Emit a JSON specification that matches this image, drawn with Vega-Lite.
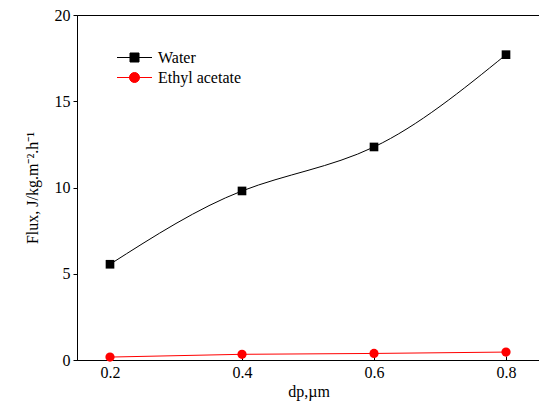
{
  "$schema": "https://vega.github.io/schema/vega-lite/v6.json",
  "width": 463,
  "height": 345,
  "autosize": {"type": "none"},
  "padding": {"left": 77, "top": 15, "right": 0, "bottom": 43},
  "background": "white",
  "config": {
    "font": "Liberation Serif",
    "view": {"stroke": "black", "strokeWidth": 1},
    "axis": {
      "labelFont": "Liberation Serif",
      "titleFont": "Liberation Serif",
      "labelColor": "black",
      "titleColor": "black",
      "domainColor": "black",
      "tickColor": "black",
      "labelFontSize": 16,
      "titleFontSize": 16,
      "titleFontWeight": "normal",
      "grid": false
    },
    "legend": {"labelFont": "Liberation Serif"}
  },
  "datasets": {
    "flux": [
      {"dp": 0.2, "flux": 5.55, "series": "Water"},
      {"dp": 0.4, "flux": 9.8, "series": "Water"},
      {"dp": 0.6, "flux": 12.35, "series": "Water"},
      {"dp": 0.8, "flux": 17.7, "series": "Water"},
      {"dp": 0.2, "flux": 0.17, "series": "Ethyl acetate"},
      {"dp": 0.4, "flux": 0.33, "series": "Ethyl acetate"},
      {"dp": 0.6, "flux": 0.38, "series": "Ethyl acetate"},
      {"dp": 0.8, "flux": 0.46, "series": "Ethyl acetate"}
    ]
  },
  "data": {"name": "flux"},
  "encoding": {
    "x": {
      "field": "dp",
      "type": "quantitative",
      "scale": {"domain": [0.15, 0.8515], "nice": false, "zero": false},
      "axis": {
        "title": "dp,\u00b5m",
        "values": [0.2, 0.4, 0.6, 0.8],
        "format": ".1f",
        "tickSize": -4,
        "labelPadding": 8,
        "titlePadding": 3
      }
    },
    "y": {
      "field": "flux",
      "type": "quantitative",
      "scale": {"domain": [0, 20], "nice": false},
      "axis": {
        "title": "Flux, J/kg.m\u207b\u00b2.h\u207b\u00b9",
        "values": [0, 5, 10, 15, 20],
        "tickSize": 4,
        "labelPadding": 3,
        "titlePadding": 14
      }
    }
  },
  "layer": [
    {
      "transform": [{"filter": "datum.series === 'Water'"}],
      "mark": {"type": "line", "interpolate": "natural", "color": "black", "strokeWidth": 1}
    },
    {
      "transform": [{"filter": "datum.series === 'Ethyl acetate'"}],
      "mark": {"type": "line", "interpolate": "linear", "color": "red", "strokeWidth": 1}
    },
    {
      "transform": [{"filter": "datum.series === 'Water'"}],
      "mark": {"type": "point", "shape": "square", "filled": true, "size": 75, "color": "black", "opacity": 1}
    },
    {
      "transform": [{"filter": "datum.series === 'Ethyl acetate'"}],
      "mark": {"type": "point", "shape": "circle", "filled": true, "size": 85, "color": "red", "opacity": 1}
    },
    {
      "transform": [{"filter": "datum.flux < 0"}],
      "mark": {"type": "point", "filled": true, "opacity": 1},
      "encoding": {
        "color": {
          "field": "series",
          "type": "nominal",
          "scale": {"domain": ["Water", "Ethyl acetate"], "range": ["black", "red"]},
          "legend": {
            "title": null,
            "orient": "none",
            "legendX": 47,
            "legendY": 32,
            "padding": 0,
            "labelFont": "Liberation Serif",
            "labelFontSize": 16,
            "labelColor": "black",
            "labelOffset": 13,
            "rowPadding": 1,
            "symbolSize": 400,
            "symbolStrokeWidth": 1,
            "symbolOpacity": 1,
            "encode": {
              "symbols": {
                "update": {
                  "stroke": {"signal": "datum.value === 'Water' ? 'black' : 'red'"},
                  "strokeWidth": {"value": 1}
                }
              }
            }
          }
        },
        "shape": {
          "field": "series",
          "type": "nominal",
          "scale": {
            "domain": ["Water", "Ethyl acetate"],
            "range": [
              "M-1.75,0H1.75M-0.45,-0.45H0.45V0.45H-0.45Z",
              "M-1.75,0H1.75M0.5,0A0.5,0.5 0 1,1 -0.5,0A0.5,0.5 0 1,1 0.5,0Z"
            ]
          }
        }
      }
    }
  ]
}
